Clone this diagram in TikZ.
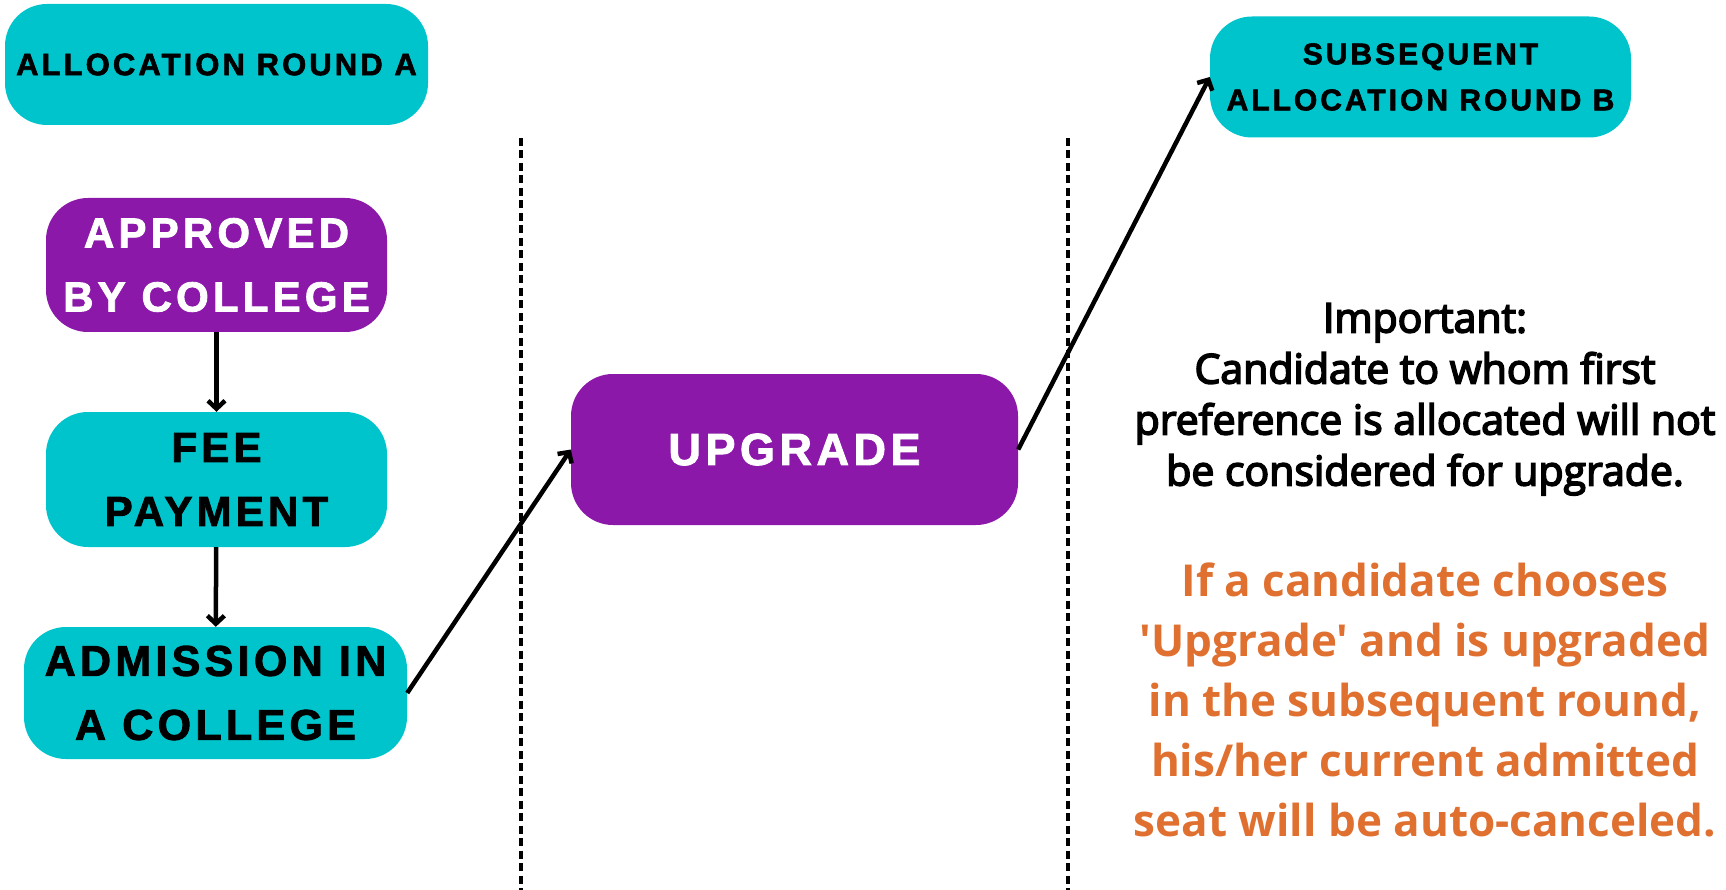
\documentclass[tikz,border=0pt]{standalone}
\usepackage{fontspec}
\usetikzlibrary{arrows.meta}
\setmainfont{Liberation Sans}
\newfontfamily\capsfont{Liberation Sans}[LetterSpace=10,FakeBold=2]
\newfontfamily\notefont{Open Sans}[FakeBold=4]
\newfontfamily\warnfont{Open Sans}
\definecolor{tealfill}{HTML}{00C4CC}
\definecolor{purplefill}{HTML}{8B18A8}
\definecolor{warnorange}{HTML}{E07030}
\begin{document}
\begin{tikzpicture}[x=1pt,y=-1pt,
  pill/.style={rectangle, rounded corners=42pt, inner sep=0pt, align=center},
  tealbox/.style={pill, fill=tealfill, text=black},
  purplebox/.style={pill, fill=purplefill, text=white},
  smallcaps/.style={font=\capsfont\bfseries\fontsize{30}{46}\selectfont},
  bigcaps/.style={font=\capsfont\bfseries\fontsize{42}{64}\selectfont},
  conn/.style={line width=4.5pt, -{Straight Barb[length=8pt,width=17pt]}},
  divider/.style={line width=4.5pt, dash pattern=on 8pt off 4.5pt}
]
\useasboundingbox (0,0) rectangle (1726,890);
% dividers
\coordinate (d1top) at (521,138);
\coordinate (d1bot) at (521,890);
\coordinate (d2top) at (1068,138);
\coordinate (d2bot) at (1068,890);
\draw[divider] (d1top) -- (d1bot);
\draw[divider] (d2top) -- (d2bot);
% boxes
\node[tealbox, smallcaps, font=\capsfont\bfseries\fontsize{31}{46}\selectfont, minimum width=423pt, minimum height=121pt] (roundA) at (216.5,64.5) {ALLOCATION ROUND A};
\node[purplebox, bigcaps, minimum width=341pt, minimum height=134pt] (approved) at (216.5,265) {APPROVED\\BY COLLEGE};
\node[tealbox, bigcaps, minimum width=341pt, minimum height=135pt] (fee) at (216.5,479.5) {FEE\\PAYMENT};
\node[tealbox, bigcaps, font=\capsfont\bfseries\fontsize{43}{64}\selectfont, minimum width=383pt, minimum height=132pt] (admission) at (215.5,693) {ADMISSION IN\\A COLLEGE};
\node[purplebox, bigcaps, font=\capsfont\bfseries\fontsize{45}{64}\selectfont, minimum width=447pt, minimum height=151pt] (upgrade) at (794.5,449.5) {UPGRADE};
\node[tealbox, smallcaps, minimum width=421pt, minimum height=121pt] (roundB) at (1420.5,77) {SUBSEQUENT\\ALLOCATION ROUND B};
% connectors
\draw[conn] (approved) -- (fee);
\draw[conn] (fee) -- (admission);
\draw[conn] (admission.east) -- (upgrade.west);
\draw[conn] (upgrade.east) -- (roundB.west);
% notes
\node[align=center, inner sep=0pt, font=\notefont\fontsize{41}{51}\selectfont, anchor=north] (important) at (1425,303)
  {Important:\\Candidate to whom first\\preference is allocated will not\\be considered for upgrade.};
\node[align=center, inner sep=0pt, text=warnorange, font=\warnfont\bfseries\fontsize{44}{60}\selectfont, anchor=north] (warning) at (1425,563)
  {If a candidate chooses\\'Upgrade' and is upgraded\\in the subsequent round,\\his/her current admitted\\seat will be auto-canceled.};
\end{tikzpicture}
\end{document}
